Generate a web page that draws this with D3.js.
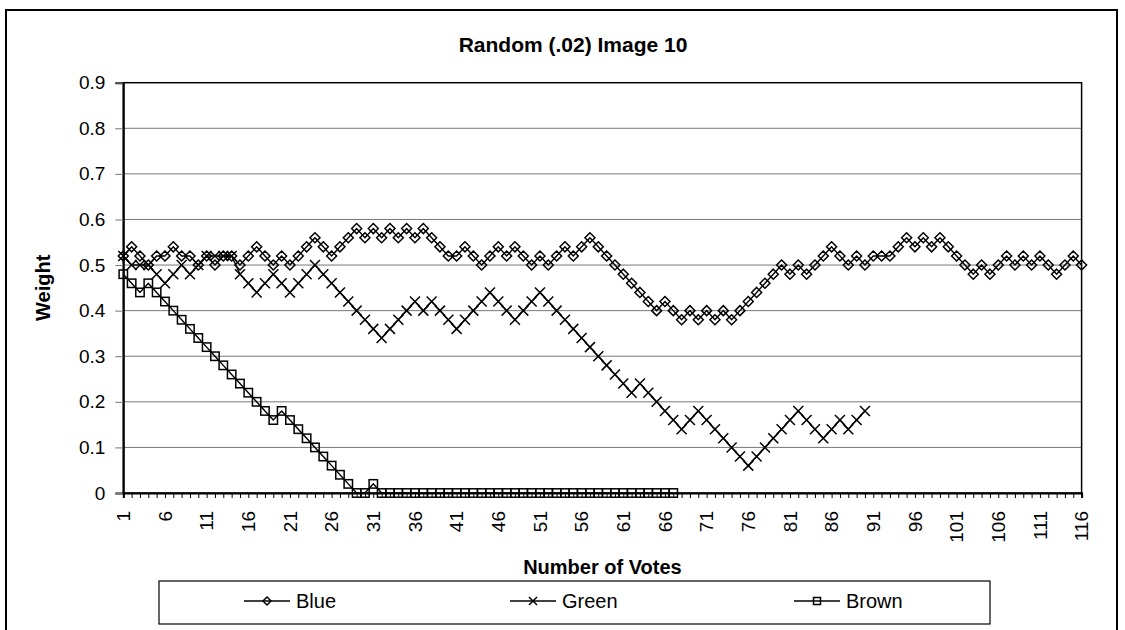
<!DOCTYPE html>
<html><head><meta charset="utf-8">
<script src="https://cdn.jsdelivr.net/npm/d3@7"></script>
<style>body{margin:0;background:#fff}svg{display:block}text{font-family:"Liberation Sans",Arial,sans-serif;fill:#000}</style>
</head><body><svg id="c" width="1125" height="630"></svg>
<script>
const categories = d3.range(1, 117);
const xTickLabels = [1,6,11,16,21,26,31,36,41,46,51,56,61,66,71,76,81,86,91,96,101,106,111,116];
const yTicks = [0,0.1,0.2,0.3,0.4,0.5,0.6,0.7,0.8,0.9];
const seriesNames = ["Blue","Green","Brown"];
const blue = [0.52,0.54,0.52,0.50,0.52,0.52,0.54,0.52,0.52,0.50,
0.52,0.50,0.52,0.52,0.50,0.52,0.54,0.52,0.50,0.52,
0.50,0.52,0.54,0.56,0.54,0.52,0.54,0.56,0.58,0.56,
0.58,0.56,0.58,0.56,0.58,0.56,0.58,0.56,0.54,0.52,
0.52,0.54,0.52,0.50,0.52,0.54,0.52,0.54,0.52,0.50,
0.52,0.50,0.52,0.54,0.52,0.54,0.56,0.54,0.52,0.50,
0.48,0.46,0.44,0.42,0.40,0.42,0.40,0.38,0.40,0.38,
0.40,0.38,0.40,0.38,0.40,0.42,0.44,0.46,0.48,0.50,
0.48,0.50,0.48,0.50,0.52,0.54,0.52,0.50,0.52,0.50,
0.52,0.52,0.52,0.54,0.56,0.54,0.56,0.54,0.56,0.54,
0.52,0.50,0.48,0.50,0.48,0.50,0.52,0.50,0.52,0.50,
0.52,0.50,0.48,0.50,0.52,0.50];
const green = [0.52,0.50,0.50,0.50,0.48,0.46,0.48,0.50,0.48,0.50,
0.52,0.52,0.52,0.52,0.48,0.46,0.44,0.46,0.48,0.46,
0.44,0.46,0.48,0.50,0.48,0.46,0.44,0.42,0.40,0.38,
0.36,0.34,0.36,0.38,0.40,0.42,0.40,0.42,0.40,0.38,
0.36,0.38,0.40,0.42,0.44,0.42,0.40,0.38,0.40,0.42,
0.44,0.42,0.40,0.38,0.36,0.34,0.32,0.30,0.28,0.26,
0.24,0.22,0.24,0.22,0.20,0.18,0.16,0.14,0.16,0.18,
0.16,0.14,0.12,0.10,0.08,0.06,0.08,0.10,0.12,0.14,
0.16,0.18,0.16,0.14,0.12,0.14,0.16,0.14,0.16,0.18];
const brown = [0.48,0.46,0.44,0.46,0.44,0.42,0.40,0.38,0.36,0.34,
0.32,0.30,0.28,0.26,0.24,0.22,0.20,0.18,0.16,0.18,
0.16,0.14,0.12,0.10,0.08,0.06,0.04,0.02,0,0,
0.02,0,0,0,0,0,0,0,0,0,
0,0,0,0,0,0,0,0,0,0,
0,0,0,0,0,0,0,0,0,0,
0,0,0,0,0,0,0];

const svg = d3.select("#c");
const L = 123.3, R = 1081.6, T = 82.7, B = 493;
const x = d3.scalePoint().domain(categories).range([L, R]);
const y = d3.scaleLinear().domain([0, 0.9]).range([B, T]);

// outer border
svg.append("rect").attr("x",6).attr("y",10).attr("width",1111).attr("height",640)
  .attr("fill","none").attr("stroke","#000").attr("stroke-width",2);

// gridlines
svg.append("g").selectAll("line").data(yTicks.filter(v=>v>0 && v<0.9)).join("line")
  .attr("x1",L).attr("x2",R).attr("y1",d=>y(d)).attr("y2",d=>y(d))
  .attr("stroke","#777").attr("stroke-width",1);

// plot border
svg.append("rect").attr("x",L).attr("y",T).attr("width",R-L).attr("height",B-T)
  .attr("fill","none").attr("stroke","#000").attr("stroke-width",1.5);

// y axis
const yAxis = d3.axisLeft(y).tickValues(yTicks).tickSize(8).tickPadding(10)
  .tickFormat(d=> d===0 ? "0" : d3.format(".1f")(d));
const gy = svg.append("g").attr("transform",`translate(${L},0)`).call(yAxis);
gy.select(".domain").attr("stroke","#000").attr("stroke-width",2);
gy.selectAll(".tick line").attr("stroke","#777");
gy.selectAll(".tick text").style("font-size","19px").attr("fill","#000");

// x axis
const xAxis = d3.axisBottom(x).tickSize(5).tickFormat("");
const gx = svg.append("g").attr("transform",`translate(0,${B})`).call(xAxis);
gx.select(".domain").attr("stroke","#000").attr("stroke-width",2);
gx.selectAll(".tick line").attr("stroke","#000");
svg.append("g").selectAll("text").data(xTickLabels).join("text")
  .attr("transform",d=>`translate(${x(d)},511) rotate(-90)`)
  .attr("text-anchor","end").attr("dy","0.35em")
  .style("font-size","19px").text(d=>d);

// titles
svg.append("text").attr("x",573).attr("y",52).attr("text-anchor","middle")
  .style("font-size","21px").style("font-weight","bold").text("Random (.02) Image 10");
svg.append("text").attr("x",(L+R)/2).attr("y",574).attr("text-anchor","middle")
  .style("font-size","20px").style("font-weight","bold").text("Number of Votes");
svg.append("text").attr("transform",`translate(50,${(T+B)/2}) rotate(-90)`).attr("text-anchor","middle")
  .style("font-size","20px").style("font-weight","bold").text("Weight");

// markers
function marker(g, type, s) {
  if (type === "diamond") g.append("path").attr("d",`M0,${-s}L${s},0L0,${s}L${-s},0Z`);
  else if (type === "x") g.append("path").attr("d",`M${-s},${-s}L${s},${s}M${-s},${s}L${s},${-s}`);
  else g.append("rect").attr("x",-s).attr("y",-s).attr("width",2*s).attr("height",2*s);
}
const series = [
  {name:seriesNames[0], values:blue, type:"diamond", s:5},
  {name:seriesNames[1], values:green, type:"x", s:5},
  {name:seriesNames[2], values:brown, type:"square", s:4.2}
];
const line = d3.line().x((d,i)=>x(categories[i])).y(d=>y(d));
series.forEach(se=>{
  const g = svg.append("g");
  g.append("path").attr("d",line(se.values)).attr("fill","none").attr("stroke","#000").attr("stroke-width",1.4);
  se.values.forEach((v,i)=>{
    const m = g.append("g").attr("transform",`translate(${x(categories[i])},${y(v)})`)
      .attr("fill","none").attr("stroke","#000").attr("stroke-width",1.5);
    marker(m, se.type, se.s);
  });
});

// legend
svg.append("rect").attr("x",159).attr("y",581).attr("width",831).attr("height",43)
  .attr("fill","#fff").attr("stroke","#000").attr("stroke-width",1.2);
const legX = [244, 510, 794];
series.forEach((se,k)=>{
  const g = svg.append("g").attr("transform",`translate(${legX[k]},601)`);
  g.append("line").attr("x1",0).attr("x2",46).attr("stroke","#000").attr("stroke-width",1.4);
  const m = g.append("g").attr("transform","translate(23,0)").attr("fill","none").attr("stroke","#000").attr("stroke-width",1.5);
  marker(m, se.type, se.type==="square"?3.5:4);
  g.append("text").attr("x",52).attr("dy","0.35em").style("font-size","20px").text(se.name);
});
</script></body></html>
